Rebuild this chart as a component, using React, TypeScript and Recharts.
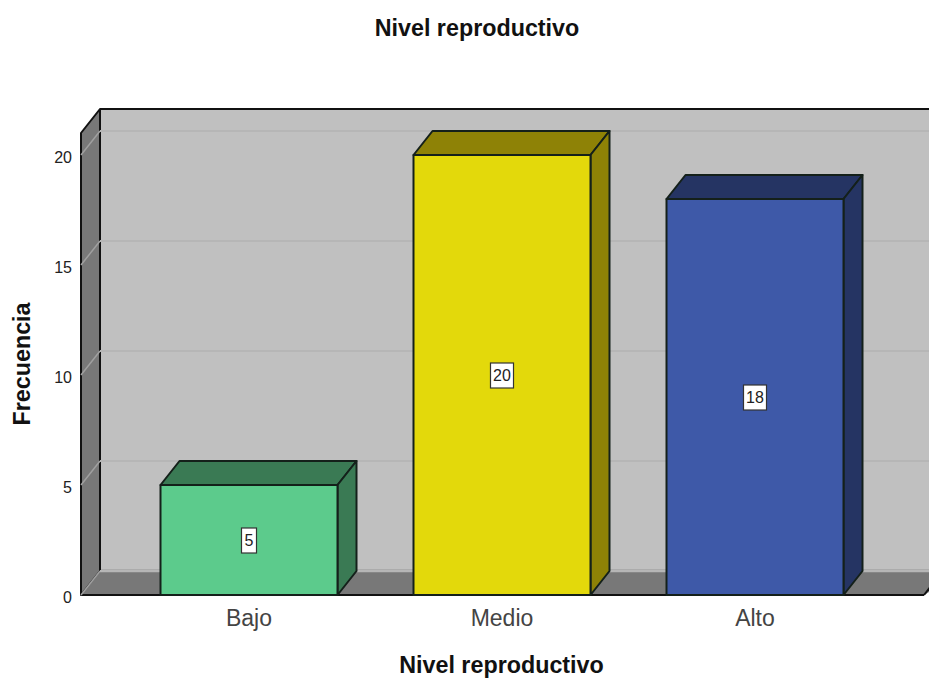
import { BarChart, Bar, XAxis, YAxis, CartesianGrid, LabelList, usePlotArea } from 'recharts';

const categories = ['Bajo', 'Medio', 'Alto'];
const values = [5, 20, 18];
const yTicks = [0, 5, 10, 15, 20];
const faceColors = ['#5CCB8C', '#E3D90B', '#3E59A8'];
const sideColors = ['#3A7A54', '#8E8206', '#253463'];

const FONT = "'Liberation Sans', Arial, sans-serif";
const DX = 19;
const DY = 24;

const data = categories.map((name, i) => ({
  name,
  value: values[i],
  face: faceColors[i],
  side: sideColors[i],
}));

// back wall, left wall and floor of the 3D box, hung off the plot area
function Walls() {
  const plot = usePlotArea();
  if (!plot) return null;
  const left = plot.x;
  const right = plot.x + plot.width;
  const top = plot.y;
  const bottom = plot.y + plot.height;
  const far = right + 40;
  return (
    <g>
      <rect x={left + DX} y={top - DY} width={far - left} height={plot.height} fill="#C0C0C0" />
      <polygon
        points={`${left},${top} ${left + DX},${top - DY} ${left + DX},${bottom - DY} ${left},${bottom}`}
        fill="#787878"
        stroke="#111"
        strokeWidth={2}
        strokeLinejoin="round"
      />
      <polygon
        points={`${left},${bottom} ${left + DX},${bottom - DY} ${far},${bottom - DY} ${right},${bottom}`}
        fill="#787878"
      />
      <line x1={left + DX} y1={bottom - DY} x2={far} y2={bottom - DY} stroke="#959595" strokeWidth={3} />
      <line x1={left + DX} y1={top - DY} x2={far} y2={top - DY} stroke="#111" strokeWidth={2} />
      <line x1={left + DX} y1={top - DY} x2={left + DX} y2={bottom - DY} stroke="#111" strokeWidth={2} />
      <line x1={left} y1={bottom} x2={right} y2={bottom} stroke="#111" strokeWidth={2} />
      <line x1={right} y1={bottom} x2={right + DX} y2={bottom - DY} stroke="#111" strokeWidth={2} />
    </g>
  );
}

function ChartTitle() {
  return (
    <text x={477} y={36} textAnchor="middle" fontFamily={FONT} fontWeight={700} fontSize={23.3} fill="#111">
      Nivel reproductivo
    </text>
  );
}

function GridLine(props: any) {
  const { x1, x2, y1 } = props;
  return (
    <g>
      <line x1={x1} y1={y1} x2={x1 + DX} y2={y1 - DY} stroke="#A0A0A0" strokeWidth={1.5} />
      <line x1={x1 + DX} y1={y1 - DY} x2={x2 + 40} y2={y1 - DY} stroke="#B6B6B6" strokeWidth={2} />
    </g>
  );
}

function Box3D(props: any) {
  const { x, y, width, height, payload } = props;
  const r = x + width;
  const b = y + height;
  const stroke = '#14201A';
  return (
    <g stroke={stroke} strokeWidth={2} strokeLinejoin="round">
      <polygon
        points={`${x},${y} ${x + DX},${y - DY} ${r + DX},${y - DY} ${r},${y}`}
        fill={payload.side}
      />
      <polygon
        points={`${r},${y} ${r + DX},${y - DY} ${r + DX},${b - DY} ${r},${b}`}
        fill={payload.side}
      />
      <rect x={x} y={y} width={width} height={height} fill={payload.face} />
    </g>
  );
}

function ValueTag(props: any) {
  const { x, y, width, height, value } = props;
  const cx = x + width / 2;
  const cy = y + height / 2;
  const w = String(value).length > 1 ? 23 : 15;
  return (
    <g>
      <rect x={cx - w / 2} y={cy - 12} width={w} height={25} fill="#FFF" stroke="#333" strokeWidth={1.2} />
      <text x={cx} y={cy + 6} textAnchor="middle" fontFamily={FONT} fontSize={16} fill="#222">
        {value}
      </text>
    </g>
  );
}

export default function App() {
  return (
    <div style={{ position: 'absolute', left: 0, top: 0, width: 929, height: 678, background: '#FFF' }}>
      <BarChart
        width={929}
        height={678}
        data={data}
        margin={{ top: 133, right: 5, bottom: 0, left: 0 }}
      >
        <Walls />
        <CartesianGrid vertical={false} horizontal={GridLine} horizontalValues={yTicks} zIndex={100} />
        <ChartTitle />
        <XAxis
          dataKey="name"
          height={83}
          axisLine={false}
          tickLine={false}
          padding={{ left: 41.5, right: 42.5 }}
          tick={{ fontFamily: FONT, fontSize: 23, fill: '#444' }}
          tickMargin={9}
          label={{
            value: 'Nivel reproductivo',
            position: 'insideBottom',
            offset: 5,
            dx: -1,
            style: { fontFamily: FONT, fontWeight: 700, fontSize: 23.3, fill: '#111' },
          }}
        />
        <YAxis
          width={81}
          domain={[0, 21]}
          ticks={yTicks}
          axisLine={false}
          tickLine={false}
          tickMargin={3}
          tick={{ fontFamily: FONT, fontSize: 16, fill: '#222', dy: 2 }}
          label={{
            value: 'Frecuencia',
            angle: -90,
            position: 'insideLeft',
            offset: 22,
            style: { fontFamily: FONT, fontWeight: 700, fontSize: 23.3, fill: '#111', textAnchor: 'middle' },
          }}
        />
        <Bar dataKey="value" barSize={177} shape={Box3D} isAnimationActive={false}>
          <LabelList dataKey="value" content={ValueTag} />
        </Bar>
      </BarChart>
    </div>
  );
}
